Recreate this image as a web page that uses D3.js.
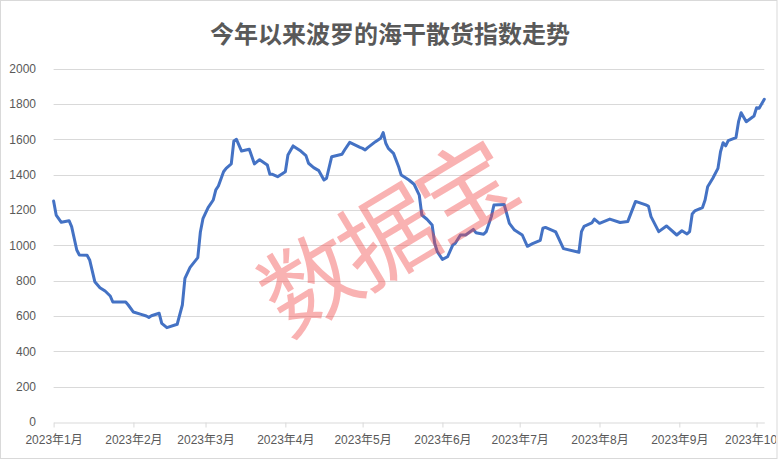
<!DOCTYPE html>
<html><head><meta charset="utf-8">
<script src="https://cdn.jsdelivr.net/npm/d3@7"></script>
<style>html,body{margin:0;padding:0;background:#fff;}</style>
</head><body>
<svg id="chart" width="779" height="460"></svg>
<script>
const title = "今年以来波罗的海干散货指数走势";
const watermark = "数据宝";
const yTicks = [0, 200, 400, 600, 800, 1000, 1200, 1400, 1600, 1800, 2000];
const xTickDates = ["2023-01-01","2023-02-01","2023-03-01","2023-04-01","2023-05-01","2023-06-01","2023-07-01","2023-08-01","2023-09-01","2023-10-01"];
const dates = [
"2023-01-01","2023-01-02","2023-01-04","2023-01-07","2023-01-08","2023-01-10","2023-01-11","2023-01-14","2023-01-15","2023-01-17",
"2023-01-19","2023-01-21","2023-01-23","2023-01-24","2023-01-29","2023-01-30","2023-02-01","2023-02-04","2023-02-06","2023-02-07",
"2023-02-08","2023-02-11","2023-02-12","2023-02-14","2023-02-18","2023-02-20","2023-02-21","2023-02-23","2023-02-26","2023-02-27",
"2023-02-28","2023-03-02","2023-03-04","2023-03-05","2023-03-06","2023-03-08","2023-03-09","2023-03-11","2023-03-12","2023-03-13",
"2023-03-15","2023-03-18","2023-03-20","2023-03-22","2023-03-25","2023-03-26","2023-03-27","2023-03-29","2023-04-01","2023-04-02",
"2023-04-04","2023-04-07","2023-04-09","2023-04-10","2023-04-12","2023-04-14","2023-04-16","2023-04-17","2023-04-19","2023-04-23",
"2023-04-24","2023-04-26","2023-04-30","2023-05-01","2023-05-02","2023-05-03","2023-05-06","2023-05-08","2023-05-09","2023-05-10",
"2023-05-11","2023-05-13","2023-05-15","2023-05-16","2023-05-19","2023-05-21","2023-05-23","2023-05-24","2023-05-26","2023-05-28",
"2023-05-29","2023-05-30","2023-06-01","2023-06-03","2023-06-05","2023-06-06","2023-06-08","2023-06-10","2023-06-13","2023-06-14",
"2023-06-17","2023-06-18","2023-06-20","2023-06-21","2023-06-25","2023-06-27","2023-06-29","2023-07-02","2023-07-04","2023-07-06",
"2023-07-09","2023-07-10","2023-07-11","2023-07-15","2023-07-18","2023-07-24","2023-07-25","2023-07-26","2023-07-29","2023-07-30",
"2023-08-01","2023-08-05","2023-08-09","2023-08-12","2023-08-15","2023-08-19","2023-08-20","2023-08-21","2023-08-23","2023-08-24",
"2023-08-27","2023-08-31","2023-09-02","2023-09-04","2023-09-05","2023-09-06","2023-09-07","2023-09-10","2023-09-11","2023-09-12",
"2023-09-14","2023-09-16","2023-09-17","2023-09-18","2023-09-19","2023-09-20","2023-09-23","2023-09-24","2023-09-25","2023-09-27",
"2023-09-30","2023-10-01","2023-10-02","2023-10-04"];
const values = [
1250,1171,1130,1139,1105,973,945,943,917,794,
760,741,713,679,679,662,622,609,600,592,
601,615,558,534,553,662,813,875,930,1075,
1150,1213,1256,1313,1335,1416,1435,1460,1590,1599,
1533,1543,1460,1484,1454,1401,1401,1388,1416,1511,
1562,1533,1507,1464,1439,1422,1369,1379,1501,1515,
1539,1582,1554,1548,1539,1552,1586,1605,1637,1577,
1548,1520,1444,1397,1369,1345,1284,1171,1147,1115,
1011,964,920,935,1001,1011,1058,1058,1090,1071,
1062,1077,1162,1228,1230,1124,1086,1058,994,1009,
1028,1096,1101,1075,981,960,1077,1107,1126,1148,
1124,1148,1129,1135,1248,1228,1222,1162,1105,1077,
1109,1058,1082,1064,1077,1177,1194,1213,1256,1331,
1379,1435,1529,1580,1562,1592,1609,1699,1750,1699,
1731,1778,1775,1826];
const xDomainEnd = "2023-10-04";

const parse = d3.timeParse("%Y-%m-%d");
const data = dates.map((d, i) => ({date: parse(d), value: values[i]}));

const svg = d3.select("#chart");
const x = d3.scaleTime().domain([parse(dates[0]), parse(xDomainEnd)]).range([53.6, 764.3]);
const y = d3.scaleLinear().domain([0, 2000]).range([422, 68.5]);

svg.append("defs").append("clipPath").attr("id","frame")
  .append("rect").attr("x",0).attr("y",0).attr("width",776).attr("height",459);

svg.append("rect").attr("x",0.5).attr("y",0.5).attr("width",776.5).attr("height",458)
  .attr("fill","#fff").attr("stroke","#d9d9d9").attr("stroke-width",1);

const g = svg.append("g").attr("clip-path","url(#frame)");

// title
g.append("text").attr("x", 390).attr("y", 43).attr("text-anchor","middle")
  .attr("font-family","'Noto Sans CJK SC', sans-serif").attr("font-weight","bold")
  .attr("font-size", 24).attr("fill","#595959").text(title);

// gridlines
g.append("g").selectAll("line").data(yTicks.filter(v => v > 0)).join("line")
  .attr("x1", 53.6).attr("x2", 764.3)
  .attr("y1", d => Math.round(y(d)) + 0.5).attr("y2", d => Math.round(y(d)) + 0.5)
  .attr("stroke","#d9d9d9").attr("stroke-width",1);

// y axis labels
const yAxis = d3.axisLeft(y).tickValues(yTicks).tickFormat(d3.format("d")).tickSize(0).tickPadding(0);
const ya = g.append("g").attr("transform","translate(36,0)").call(yAxis);
ya.select(".domain").remove();
ya.selectAll("text").attr("font-family","'Liberation Sans', 'Noto Sans CJK SC', sans-serif")
  .attr("font-size",12).attr("fill","#595959");

// x axis
const fmt = d => `${d.getFullYear()}年${d.getMonth()+1}月`;
const xAxis = d3.axisBottom(x).tickValues(xTickDates.map(parse)).tickFormat(fmt)
  .tickSizeInner(5).tickSizeOuter(0).tickPadding(8);
const xa = g.append("g").attr("transform", `translate(0,${Math.round(y(0)) + 0.5})`).call(xAxis);
xa.select(".domain").attr("stroke","#d9d9d9");
xa.selectAll(".tick line").attr("stroke","#d9d9d9");
xa.selectAll("text").attr("font-family","'Liberation Sans', 'Noto Sans CJK SC', sans-serif")
  .attr("font-size",12).attr("fill","#595959");

// line
const line = d3.line().x(d => x(d.date)).y(d => y(d.value));
g.append("path").datum(data).attr("d", line).attr("fill","none")
  .attr("stroke","#4472C4").attr("stroke-width",3).attr("stroke-linejoin","round").attr("stroke-linecap","round");

// watermark
g.append("text").attr("transform","translate(404,268) rotate(-31)").attr("text-anchor","middle")
  .attr("font-family","'Noto Sans CJK SC', sans-serif").attr("font-size",96)
  .attr("fill","rgba(240,72,72,0.42)").attr("letter-spacing", -5).text(watermark);
</script>
</body></html>
